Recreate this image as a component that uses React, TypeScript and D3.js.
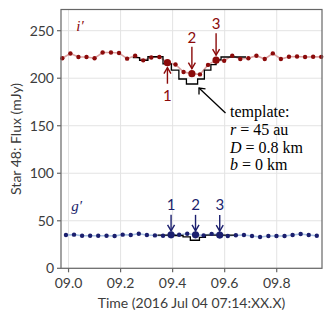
import * as d3 from 'd3';

// i' band (red)
const iTimes = [8.976, 9.007, 9.038, 9.069, 9.100, 9.131, 9.163, 9.194, 9.225, 9.256, 9.287, 9.318, 9.349, 9.380, 9.411, 9.442, 9.474, 9.505, 9.536, 9.567, 9.598, 9.629, 9.660, 9.691, 9.722, 9.754, 9.785, 9.816, 9.847, 9.878, 9.909, 9.940, 9.971];
const iFlux = [221, 226, 222.3, 222.3, 221, 227, 227, 226.5, 220.6, 223.7, 218.8, 221.8, 222.4, 216.3, 214.5, 206.5, 204.8, 204, 214, 219, 218.4, 223.7, 220.2, 221, 223.7, 220.2, 226.1, 220.2, 222.6, 222.8, 222.4, 222.6, 222.5];

// g' band (blue)
const gTimes = [8.990, 9.021, 9.052, 9.083, 9.114, 9.146, 9.177, 9.208, 9.239, 9.270, 9.301, 9.332, 9.363, 9.394, 9.425, 9.456, 9.488, 9.519, 9.550, 9.581, 9.612, 9.643, 9.674, 9.705, 9.736, 9.768, 9.799, 9.830, 9.861, 9.892, 9.923, 9.954];
const gFlux = [35.0, 35.4, 34.3, 34.3, 34.3, 34.3, 34.0, 35.4, 35.0, 36.4, 35.0, 34.6, 34.2, 35.2, 35.3, 36.3, 35.2, 34.6, 36.2, 35.0, 34.0, 34.7, 35.0, 34.0, 32.9, 34.0, 34.0, 34.0, 35.0, 36.1, 35.0, 34.3];

// occultation template (step edges + level in each step)
const iTplEdges = [9.247, 9.273, 9.305, 9.363, 9.395, 9.424, 9.453, 9.496, 9.522, 9.547, 9.567, 9.586, 9.682];
const iTplFlux = [221.6, 218.9, 222.6, 215, 208.6, 199.2, 193.9, 199.2, 208.6, 214.4, 219.2, 222.3];
const gTplEdges = [9.342, 9.409, 9.440, 9.468, 9.503, 9.526, 9.643];
const gTplFlux = [35.0, 34.5, 33.0, 29.5, 32.5, 35.0];

const marked = [13, 16, 19];
const markLabels = ['1', '2', '3'];

const xTicks = [9.0, 9.2, 9.4, 9.6, 9.8];
const yTicks = [0, 50, 100, 150, 200, 250];

const W = 332, H = 323;
const m = { left: 61, right: 10, top: 9.5, bottom: 54.7 };

const red = '#8b0a0a', redLight = '#dba3a3';
const blue = '#1b1f6e', blueLight = '#a9c3e3';
const frame = '#666';
const sans = 'Lato, "Open Sans", sans-serif';
const serif = '"Liberation Serif", serif';

export default function App() {
  const x = d3.scaleLinear().domain([8.971, 9.974]).range([m.left, W - m.right]);
  const y = d3.scaleLinear().domain([0, 272.3]).range([H - m.bottom, m.top]);

  const mkLine = (ts: number[], vs: number[]) =>
    d3.line<number>().x((_, i) => x(ts[i])).y(d => y(d))(vs) || '';
  const mkStep = (edges: number[], vs: number[]) =>
    d3.line<[number, number]>().x(d => x(d[0])).y(d => y(d[1])).curve(d3.curveStepAfter)(
      edges.map((e, i) => [e, vs[Math.min(i, vs.length - 1)]] as [number, number])
    ) || '';

  const arrow = (x0: number, y0: number, y1: number, color: string, key: string) => {
    const dir = y1 > y0 ? 1 : -1;
    return (
      <g key={key} stroke={color} strokeWidth={1.4} fill="none">
        <line x1={x0} y1={y0} x2={x0} y2={y1} />
        <path d={`M${x0 - 3.5},${y1 - dir * 6} L${x0},${y1} L${x0 + 3.5},${y1 - dir * 6}`} />
      </g>
    );
  };

  const x0 = m.left, x1 = W - m.right, yb = H - m.bottom, yt = m.top;

  return (
    <svg width={W} height={H} style={{ position: 'absolute', left: 0, top: 0, background: '#fff' }}>
      {/* grid */}
      <g stroke="#e3e3e3" strokeWidth={1}>
        {xTicks.map(t => <line key={'gx' + t} x1={x(t)} x2={x(t)} y1={yt} y2={yb} />)}
        {yTicks.map(t => <line key={'gy' + t} x1={x0} x2={x1} y1={y(t)} y2={y(t)} />)}
      </g>

      {/* light connecting lines */}
      <path d={mkLine(iTimes, iFlux)} fill="none" stroke={redLight} strokeWidth={1.6} />
      <path d={mkLine(gTimes, gFlux)} fill="none" stroke={blueLight} strokeWidth={1.6} />

      {/* templates */}
      <path d={mkStep(iTplEdges, iTplFlux)} fill="none" stroke="#000" strokeWidth={1.3} />
      <path d={mkStep(gTplEdges, gTplFlux)} fill="none" stroke="#000" strokeWidth={1.3} />

      {/* points */}
      {iFlux.map((v, i) => (
        <circle key={'ip' + i} cx={x(iTimes[i])} cy={y(v)} r={marked.includes(i) ? 3.6 : 2.2} fill={red} />
      ))}
      {gFlux.map((v, i) => (
        <circle key={'gp' + i} cx={x(gTimes[i])} cy={y(v)} r={marked.includes(i) ? 3.6 : 2.2} fill={blue} />
      ))}

      {/* i' markers */}
      {marked.map((idx, k) => {
        const cx = x(iTimes[idx]);
        const cy = y(iFlux[idx]);
        if (k === 0) {
          return (
            <g key={'im' + k}>
              {arrow(cx, cy + 21, cy + 5, red, 'ia' + k)}
              <text x={cx} y={cy + 38} fill={red} fontSize={15} fontFamily={sans} textAnchor="middle">{markLabels[k]}</text>
            </g>
          );
        }
        return (
          <g key={'im' + k}>
            {arrow(cx, cy - 27, cy - 5, red, 'ia' + k)}
            <text x={cx} y={cy - 31} fill={red} fontSize={15} fontFamily={sans} textAnchor="middle">{markLabels[k]}</text>
          </g>
        );
      })}

      {/* g' markers */}
      {marked.map((idx, k) => {
        const cx = x(gTimes[idx]);
        const cy = y(gFlux[idx]);
        return (
          <g key={'gm' + k}>
            {arrow(cx, cy - 20, cy - 4, blue, 'ga' + k)}
            <text x={cx} y={cy - 25} fill={blue} fontSize={15} fontFamily={sans} textAnchor="middle">{markLabels[k]}</text>
          </g>
        );
      })}

      {/* band labels */}
      <text x={x(9.03)} y={y(250)} fill={red} fontSize={15} fontStyle="italic" fontFamily={serif}>i′</text>
      <text x={x(9.01)} y={y(60)} fill={blue} fontSize={15} fontStyle="italic" fontFamily={serif}>g′</text>

      {/* template annotation */}
      <g stroke="#000" strokeWidth={1.3} fill="none">
        <line x1={225.5} y1={113} x2={199} y2={88} />
        <path d="M199,94.5 L199,88 L205.5,88.8" />
      </g>
      <g fontFamily={serif} fontSize={16} fill="#000">
        <text x={230} y={117}>template:</text>
        <text x={230} y={135}><tspan fontStyle="italic">r</tspan> = 45 au</text>
        <text x={230} y={153}><tspan fontStyle="italic">D</tspan> = 0.8 km</text>
        <text x={230} y={170}><tspan fontStyle="italic">b</tspan> = 0 km</text>
      </g>

      {/* frame */}
      <rect x={x0} y={yt} width={x1 - x0} height={yb - yt} fill="none" stroke={frame} strokeWidth={1.2} />

      {/* axes ticks + labels */}
      <g stroke={frame} strokeWidth={1.2}>
        {xTicks.map(t => <line key={'tx' + t} x1={x(t)} x2={x(t)} y1={yb} y2={yb + 4} />)}
        {yTicks.map(t => <line key={'ty' + t} x1={x0 - 4} x2={x0} y1={y(t)} y2={y(t)} />)}
      </g>
      <g fontFamily={sans} fontSize={14} fill="#3c3c3c">
        {xTicks.map(t => (
          <text key={'lx' + t} x={x(t)} y={yb + 20} textAnchor="middle">{'0' + t.toFixed(1)}</text>
        ))}
        {yTicks.map(t => (
          <text key={'ly' + t} x={x0 - 7} y={y(t) + 5} textAnchor="end">{t}</text>
        ))}
        <text x={(x0 + x1) / 2} y={H - 15.5} textAnchor="middle">Time (2016 Jul 04 07:14:XX.X)</text>
        <text transform={`translate(21,${(yt + yb) / 2}) rotate(-90)`} textAnchor="middle">Star 48: Flux (mJy)</text>
      </g>
    </svg>
  );
}
